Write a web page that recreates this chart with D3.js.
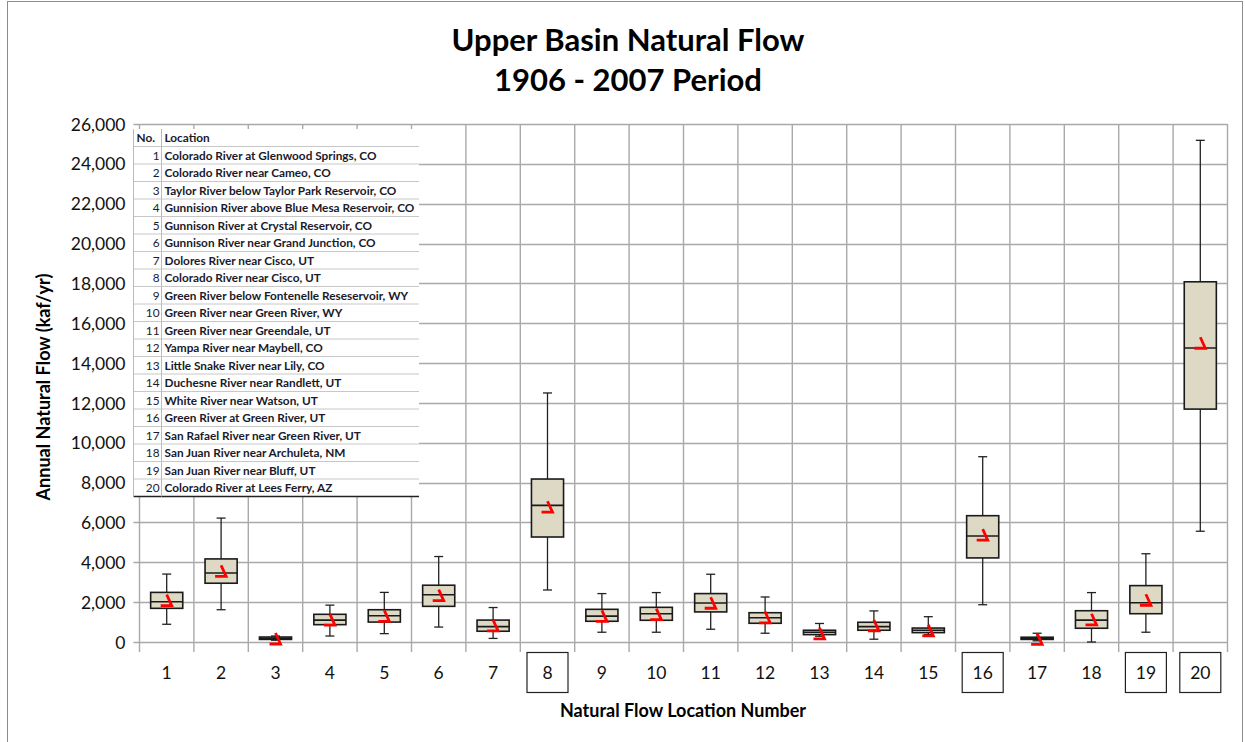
<!DOCTYPE html>
<html lang="en">
<head>
<meta charset="UTF-8">
<title>Upper Basin Natural Flow</title>
<script src="https://cdn.jsdelivr.net/npm/d3@7/dist/d3.min.js"></script>
<style>
  body { margin: 0; background: #fff; }
  svg text { font-family: Lato, "Open Sans", sans-serif; }
</style>
</head>
<body>
<div id="chart"></div>
<script>
// data (kaf/yr)
var locNo = d3.range(1, 21);
var locNames = [
  "Colorado River at Glenwood Springs, CO",
  "Colorado River near Cameo, CO",
  "Taylor River below Taylor Park Reservoir, CO",
  "Gunnision River above Blue Mesa Reservoir, CO",
  "Gunnison River at Crystal Reservoir, CO",
  "Gunnison River near Grand Junction, CO",
  "Dolores River near Cisco, UT",
  "Colorado River near Cisco, UT",
  "Green River below Fontenelle Reseservoir, WY",
  "Green River near Green River, WY",
  "Green River near Greendale, UT",
  "Yampa River near Maybell, CO",
  "Little Snake River near Lily, CO",
  "Duchesne River near Randlett, UT",
  "White River near Watson, UT",
  "Green River at Green River, UT",
  "San Rafael River near Green River, UT",
  "San Juan River near Archuleta, NM",
  "San Juan River near Bluff, UT",
  "Colorado River at Lees Ferry, AZ"
];
var whiskerHigh = [3410, 6220, 300, 1850, 2490, 4290, 1730, 12500, 2430, 2480, 3400, 2260, 930, 1560, 1270, 9300, 440, 2480, 4430, 25180];
var q3          = [2490, 4170, 250, 1390, 1620, 2850, 1100, 8180, 1640, 1740, 2430, 1470, 590, 990, 700, 6340, 240, 1570, 2830, 18080];
var median      = [2020, 3460, 185, 1100, 1320, 2370, 770, 6860, 1300, 1420, 1960, 1220, 490, 770, 590, 5320, 180, 1100, 1970, 14760];
var q1          = [1690, 2950, 130, 870, 1000, 1790, 540, 5270, 1040, 1090, 1510, 940, 370, 590, 470, 4220, 130, 690, 1420, 11690];
var whiskerLow  = [890, 1620, 90, 300, 420, 750, 180, 2610, 490, 490, 640, 440, 290, 140, 370, 1870, 60, 0, 490, 5560];
var meanFlow    = [2100, 3570, 175, 1120, 1310, 2350, 830, 6790, 1310, 1400, 1970, 1240, 430, 830, 580, 5390, 160, 1140, 2120, 15020];
var yTicks = d3.range(0, 26001, 2000);
var boxedLabels = [8, 16, 19, 20];

var W = 1245, H = 742;
var plot = {left: 139.5, right: 1227.5, top: 124, bottom: 642};

var svg = d3.select("#chart").append("svg")
    .attr("width", W).attr("height", H);

// outer frame
svg.append("rect")
    .attr("x", 7.5).attr("y", 1.5).attr("width", 1235).attr("height", 780)
    .attr("fill", "none").attr("stroke", "#8c8c8c").attr("stroke-width", 1);

var x = d3.scaleBand().domain(locNo).range([plot.left, plot.right]);
var y = d3.scaleLinear().domain([0, 26000]).range([plot.bottom, plot.top]);

var boxes = locNo.map(function(n, i) {
  return {no: n, hi: whiskerHigh[i], q3: q3[i], med: median[i], q1: q1[i], lo: whiskerLow[i], mean: meanFlow[i]};
});

// gridlines
var grid = svg.append("g").attr("stroke", "#a9a9a9").attr("stroke-width", 1.4);
grid.selectAll(".hg").data(yTicks).enter().append("line")
    .attr("x1", plot.left - 6).attr("x2", plot.right)
    .attr("y1", function(d) { return Math.round(y(d)) + 0.5; })
    .attr("y2", function(d) { return Math.round(y(d)) + 0.5; });
var vlines = d3.range(0, 21).map(function(k) { return plot.left + k * x.step(); });
grid.selectAll(".vg").data(vlines).enter().append("line")
    .attr("x1", function(d) { return d; }).attr("x2", function(d) { return d; })
    .attr("y1", plot.top).attr("y2", plot.bottom + 10);

// y axis labels
var yAxis = d3.axisLeft(y).tickValues(yTicks).tickFormat(d3.format(",")).tickSize(0).tickPadding(14);
var gy = svg.append("g").attr("transform", "translate(" + plot.left + ",0)").call(yAxis);
gy.select(".domain").remove();
gy.selectAll("text").attr("font-size", 17.5).attr("fill", "#111").attr("dy", "0.35em");

// boxes
var boxW = x.bandwidth() * 0.59;
var gb = svg.append("g");
var bg = gb.selectAll(".box").data(boxes).enter().append("g")
    .attr("transform", function(d) { return "translate(" + (x(d.no) + x.bandwidth() / 2) + ",0)"; });

bg.append("line")
    .attr("x1", 0).attr("x2", 0)
    .attr("y1", function(d) { return y(d.hi); }).attr("y2", function(d) { return y(d.lo); })
    .attr("stroke", "#222").attr("stroke-width", 1.3);
bg.selectAll(".cap").data(function(d) { return [d.hi, d.lo]; }).enter().append("line")
    .attr("x1", -4.5).attr("x2", 4.5)
    .attr("y1", function(v) { return y(v); }).attr("y2", function(v) { return y(v); })
    .attr("stroke", "#222").attr("stroke-width", 1.3);
bg.append("rect")
    .attr("x", -boxW / 2).attr("width", boxW)
    .attr("y", function(d) { return y(d.q3); })
    .attr("height", function(d) { return Math.max(1, y(d.q1) - y(d.q3)); })
    .attr("fill", "#ddd9c4").attr("stroke", "#1a1a1a").attr("stroke-width", 1.6);
bg.append("line")
    .attr("x1", -boxW / 2).attr("x2", boxW / 2)
    .attr("y1", function(d) { return y(d.med); }).attr("y2", function(d) { return y(d.med); })
    .attr("stroke", "#1a1a1a").attr("stroke-width", 1.6);
// mean marker
bg.append("path")
    .attr("d", function(d) {
      var m = y(d.mean);
      return "M0," + (m - 5.5) + "L5," + (m + 5.5) + "L-6," + (m + 5.5);
    })
    .attr("fill", "none").attr("stroke", "#ff0000").attr("stroke-width", 2.8)
    .attr("stroke-linejoin", "miter");

// x labels
var gx = svg.append("g");
gx.selectAll(".lb").data(locNo.filter(function(n) { return boxedLabels.indexOf(n) >= 0; })).enter().append("rect")
    .attr("x", function(n) { return Math.min(x(n) + x.bandwidth() / 2 - 20.5, plot.right - 42); })
    .attr("y", 652.5).attr("width", 41).attr("height", 40)
    .attr("fill", "#fff").attr("stroke", "#222").attr("stroke-width", 1.2);
gx.selectAll(".xl").data(locNo).enter().append("text")
    .attr("x", function(n) { return x(n) + x.bandwidth() / 2; })
    .attr("y", 679)
    .attr("text-anchor", "middle").attr("font-size", 17.5).attr("fill", "#111")
    .text(function(n) { return n; });

// legend table
var tbl = {left: 133.5, right: 419, top: 129, rowH: 17.5, split: 161.5};
var gt = svg.append("g");
var nRows = locNames.length + 1;
gt.append("rect")
    .attr("x", tbl.left).attr("y", tbl.top).attr("width", tbl.right - tbl.left)
    .attr("height", nRows * tbl.rowH).attr("fill", "#fff");
gt.selectAll(".rl").data(d3.range(1, nRows)).enter().append("line")
    .attr("x1", tbl.left).attr("x2", tbl.right)
    .attr("y1", function(k) { return tbl.top + k * tbl.rowH; })
    .attr("y2", function(k) { return tbl.top + k * tbl.rowH; })
    .attr("stroke", "#c8c8c8").attr("stroke-width", 1);
gt.append("line")
    .attr("x1", tbl.left).attr("x2", tbl.right)
    .attr("y1", tbl.top + nRows * tbl.rowH).attr("y2", tbl.top + nRows * tbl.rowH)
    .attr("stroke", "#222").attr("stroke-width", 1.5);
gt.append("line")
    .attr("x1", tbl.left).attr("x2", tbl.left)
    .attr("y1", tbl.top).attr("y2", tbl.top + nRows * tbl.rowH)
    .attr("stroke", "#bbb").attr("stroke-width", 1);
gt.append("line")
    .attr("x1", tbl.split).attr("x2", tbl.split)
    .attr("y1", tbl.top).attr("y2", tbl.top + nRows * tbl.rowH)
    .attr("stroke", "#bbb").attr("stroke-width", 1);
gt.append("text").attr("x", tbl.left + 3).attr("y", tbl.top + 13)
    .attr("font-size", 11.8).attr("font-weight", "bold").attr("fill", "#1a1a2a").text("No.");
gt.append("text").attr("x", tbl.split + 3).attr("y", tbl.top + 13)
    .attr("font-size", 11.8).attr("font-weight", "bold").attr("fill", "#1a1a2a").text("Location");
gt.selectAll(".tn").data(locNo).enter().append("text")
    .attr("x", tbl.split - 2).attr("text-anchor", "end")
    .attr("y", function(n) { return tbl.top + n * tbl.rowH + 13; })
    .attr("font-size", 11.8).attr("fill", "#1a1a2a").text(function(n) { return n; });
gt.selectAll(".tt").data(locNames).enter().append("text")
    .attr("x", tbl.split + 3)
    .attr("y", function(s, i) { return tbl.top + (i + 1) * tbl.rowH + 13; })
    .attr("font-size", 11.8).attr("font-weight", "bold").attr("fill", "#1a1a2a").text(function(s) { return s; });

// titles
svg.append("text").attr("x", 628).attr("y", 51).attr("text-anchor", "middle")
    .attr("font-size", 31).attr("font-weight", "bold").attr("fill", "#000")
    .text("Upper Basin Natural Flow");
svg.append("text").attr("x", 628).attr("y", 91).attr("text-anchor", "middle")
    .attr("font-size", 31).attr("font-weight", "bold").attr("fill", "#000")
    .text("1906 - 2007 Period");
svg.append("text").attr("transform", "translate(50,387) rotate(-90)").attr("text-anchor", "middle")
    .attr("font-size", 18).attr("font-weight", "bold").attr("fill", "#000")
    .text("Annual Natural Flow (kaf/yr)");
svg.append("text").attr("x", 683).attr("y", 717).attr("text-anchor", "middle")
    .attr("font-size", 18).attr("font-weight", "bold").attr("fill", "#000")
    .text("Natural Flow Location Number");
</script>
</body>
</html>
